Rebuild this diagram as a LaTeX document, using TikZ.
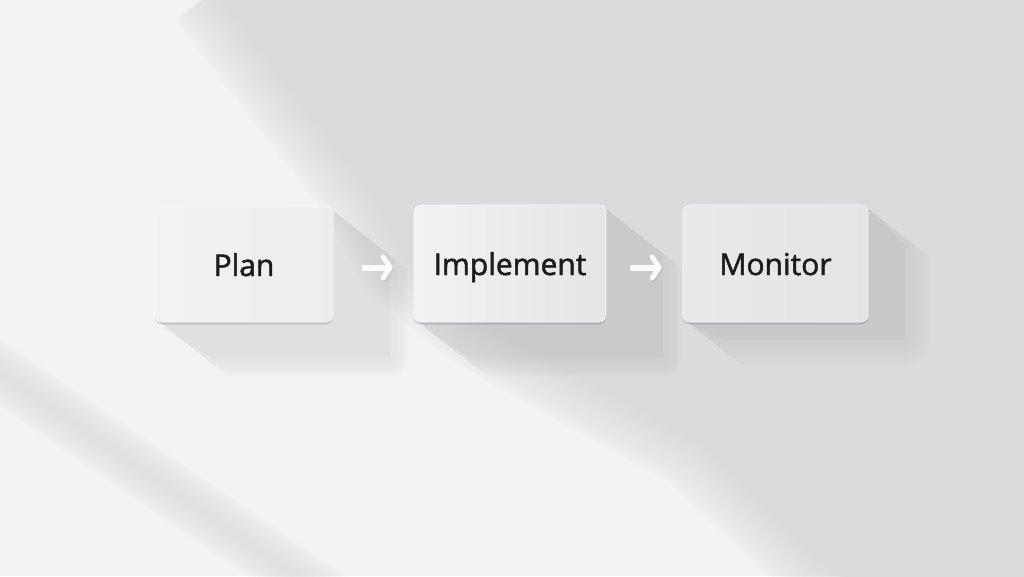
\documentclass[tikz,border=0pt]{standalone}
\usepackage{fontspec}
\setmainfont{Open Sans}
\usetikzlibrary{arrows.meta,shadows}
\definecolor{bright}{HTML}{F3F3F4}
\definecolor{wallgray}{HTML}{D9DBDD}
\definecolor{stripegray}{HTML}{D9DBDD}
\definecolor{txt}{HTML}{1C1C1C}
\definecolor{boxedge}{HTML}{F8F8F8}
\definecolor{arrowwhite}{HTML}{FBFBFB}
\tikzset{
  stepbox/.style={rounded corners=7pt, draw=boxedge, line width=0.6pt,
    text=txt, font=\fontsize{30}{36}\selectfont\addfontfeature{FakeBold=1.6},
    text height=23pt, text depth=0pt, inner sep=0pt,
    drop shadow={shadow xshift=0pt, shadow yshift=-2.5pt, fill=black, opacity=0.12}},
  flowarrow/.style={draw=arrowwhite, line width=6pt,
    -{Straight Barb[length=7pt, width=21pt, line width=5pt, round]},
    preaction={draw=black, opacity=0.06, transform canvas={shift={(1pt,-1.5pt)}}}},
  softshadow/.style={fill=black, draw=black, line join=round, opacity=0.14}
}
% #1..#4 = x0,y0,x1,y1 of a card; clip region covering the card and everything swept towards lower right
\newcommand{\castclip}[4]{%
  \clip (#1+2,#2+2) -- (#3-2,#2+2) -- (#3+598,#2+476) -- (#3+598,#4+472)
    -- (#1+602,#4+472) -- (#1+2,#4-2) -- cycle;}
\begin{document}
\begin{tikzpicture}[x=1pt,y=-1pt]
\useasboundingbox (0,0) rectangle (1024,576);
% wall
\fill[bright] (0,0) rectangle (1024,576);
% shaded part of the wall (upper right)
\fill[wallgray] (215,-10) -- (300,100) -- (370,190) -- (405,258) -- (480,320)
  -- (605,390) -- (700,442) -- (850,586) -- (1034,586) -- (1034,-10) -- cycle;
\foreach \w in {100,94,...,4}
  \draw[wallgray, line width=\w pt, opacity=0.09, line join=round]
    (215,-10) -- (300,100) -- (370,190) -- (405,258) -- (480,320)
    -- (605,390) -- (700,442) -- (850,586);
% window-frame stripe at lower left
\foreach \w in {56,50,...,8}
  \draw[stripegray, line width=\w pt, opacity=0.1] (-30,352) -- (340,606);
% cast shadows of the cards
\begin{scope}
  \castclip{155}{207}{333}{322}
  \begin{scope}[transparency group, opacity=0.075]
    \foreach \w in {36,32,...,4}
      \filldraw[softshadow, line width=\w pt]
        (155,207) -- (333,207) -- (390,252) -- (390,358) -- (212,358) -- (155,322) -- cycle;
    \fill[black] (155,207) -- (333,207) -- (390,252) -- (390,358) -- (212,358) -- (155,322) -- cycle;
  \end{scope}
\end{scope}
\begin{scope}
  \castclip{414}{205}{606}{322}
  \begin{scope}[transparency group, opacity=0.075]
    \foreach \w in {36,32,...,4}
      \filldraw[softshadow, line width=\w pt]
        (414,205) -- (606,205) -- (663,250) -- (663,358) -- (471,358) -- (414,322) -- cycle;
    \fill[black] (414,205) -- (606,205) -- (663,250) -- (663,358) -- (471,358) -- (414,322) -- cycle;
  \end{scope}
\end{scope}
\begin{scope}
  \castclip{683}{205}{868}{322}
  \begin{scope}[transparency group, opacity=0.08]
    \foreach \w in {48,42,...,6}
      \filldraw[softshadow, line width=\w pt]
        (683,205) -- (868,205) -- (905,245) -- (905,340) -- (725,340) -- (683,322) -- cycle;
    \fill[black] (683,205) -- (868,205) -- (905,245) -- (905,340) -- (725,340) -- (683,322) -- cycle;
  \end{scope}
\end{scope}
% cards
\node[stepbox, minimum width=178pt, minimum height=115pt,
  left color=white!95!black, right color=white!93!black] (plan) at (244,264.5) {Plan};
\node[stepbox, minimum width=192pt, minimum height=117pt,
  left color=white!95!black, right color=white!90!black] (impl) at (510,263.5) {Implement};
\node[stepbox, minimum width=185pt, minimum height=117pt,
  left color=white!91.5!black, right color=white!89.5!black] (mon) at (775.5,263.5) {Monitor};
% connectors
\draw[flowarrow] ([xshift=29pt,yshift=-3pt]plan.east) -- ([xshift=-21pt,yshift=-4pt]impl.west);
\draw[flowarrow] ([xshift=24pt,yshift=-4pt]impl.east) -- ([xshift=-21pt,yshift=-4pt]mon.west);
\end{tikzpicture}
\end{document}
